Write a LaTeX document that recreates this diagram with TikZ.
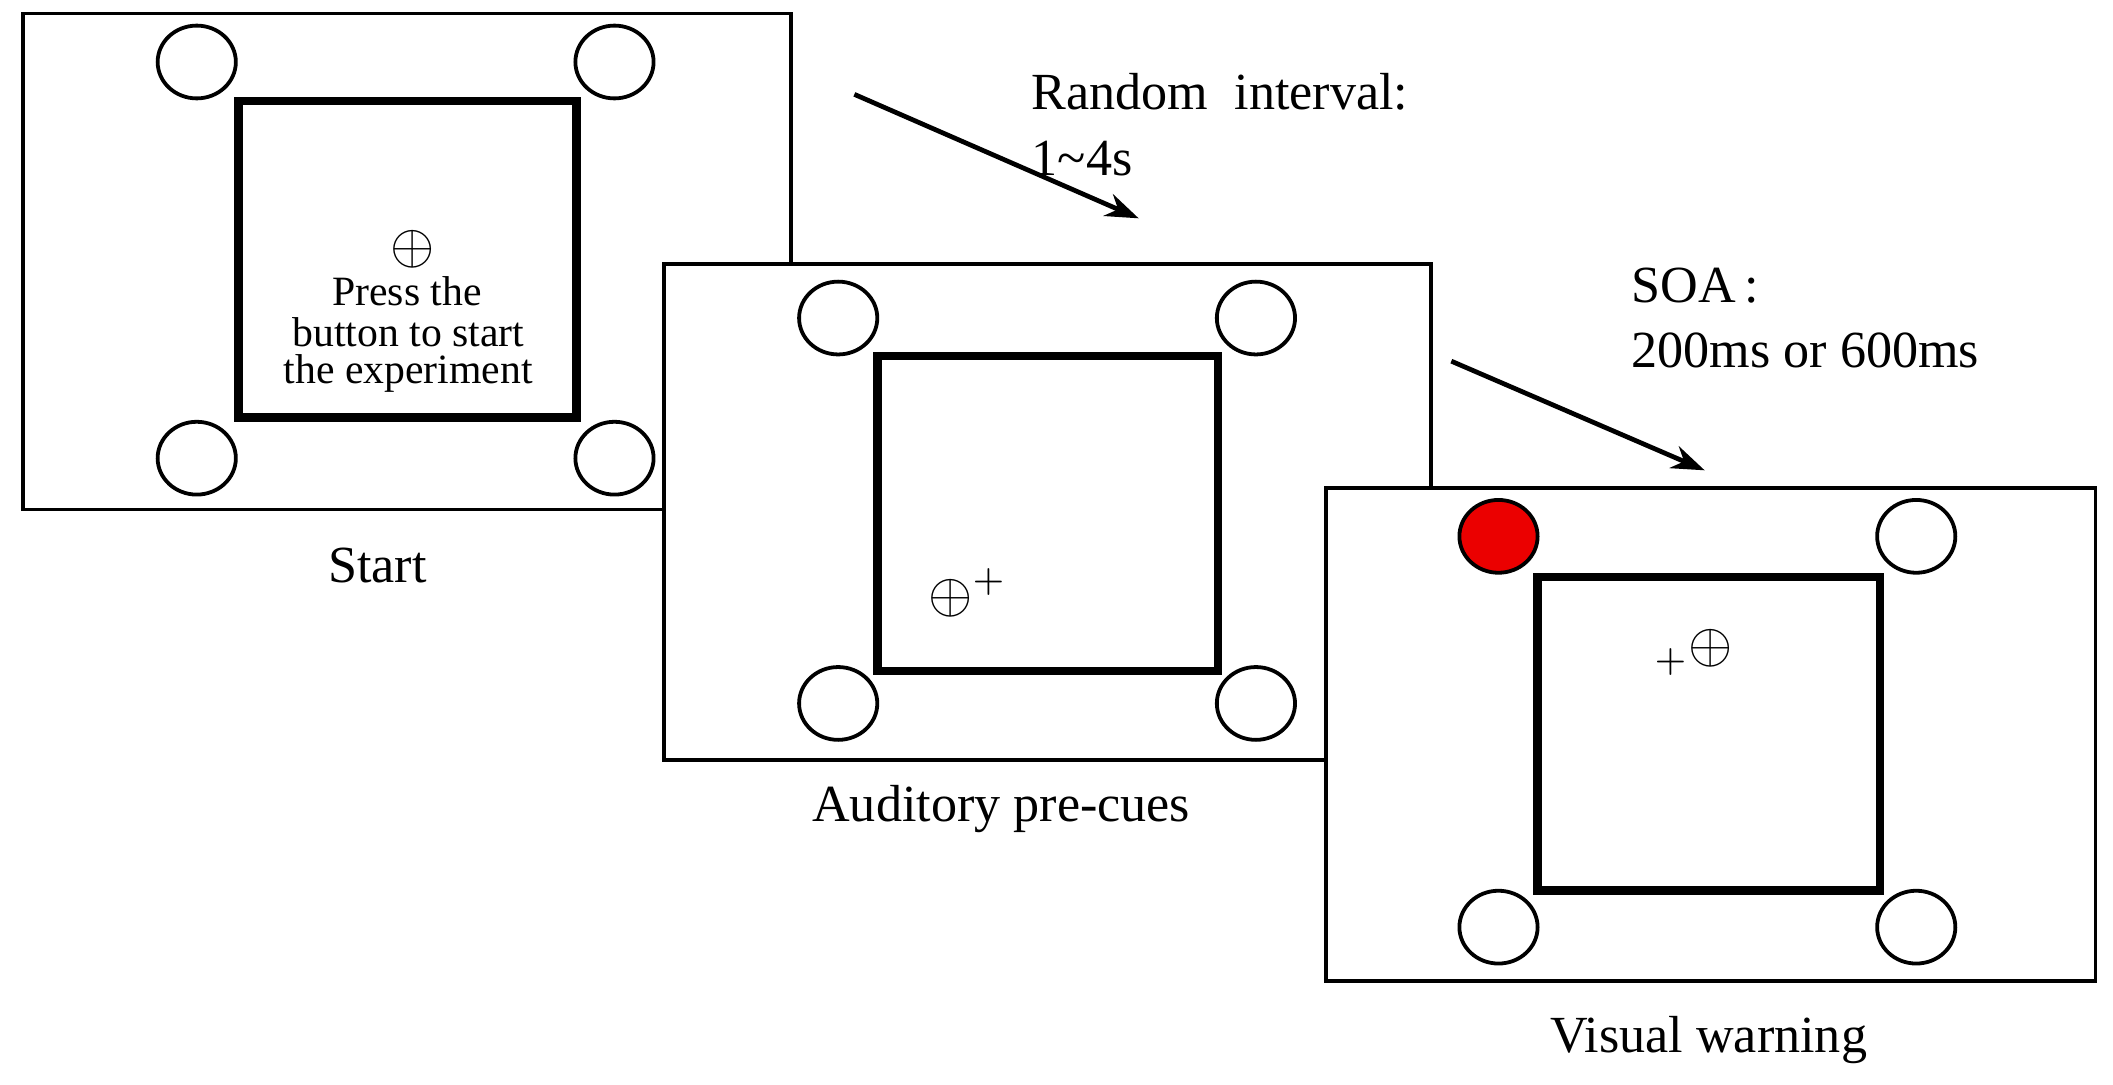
\documentclass[tikz,border=0pt]{standalone}
\usepackage{fontspec}
\setmainfont{Liberation Serif}
\usetikzlibrary{shapes.geometric,arrows.meta}
\begin{document}
\begin{tikzpicture}[x=0.01cm,y=-0.01cm,
  frame/.style={draw,line width=0.8pt,fill=white},
  inner/.style={draw,line width=1.8pt},
  dot/.style={draw,line width=0.8pt,fill=white,ellipse,minimum width=0.58cm,minimum height=0.54cm,inner sep=0pt},
  txt/.style={font=\fontsize{8.8}{10}\selectfont,inner sep=0pt},
  lab/.style={font=\fontsize{11}{13}\selectfont,inner sep=0pt},
  arr/.style={-{Stealth[length=7pt,width=5pt]},line width=1pt}]
\useasboundingbox (0,0) rectangle (1568,805);
% frame 1
\draw[frame] (17,10) rectangle (587,378);
\draw[inner] (177,75) rectangle (428,310);
\foreach \n/\x/\y in {a1/146/46,a2/456/46,a3/146/340,a4/456/340}
  \node[dot] (\n) at (\x,\y) {};
\node[txt,font=\large] (p0) at (306,185) {$\oplus$};
\node[txt] (p1) at (302,216) {Press the};
\node[txt] (p2) at (303,246.5) {button to start};
\node[txt] (p3) at (303,277) {the experiment};
\node[lab] (l1) at (280,420) {Start};
% frame 2
\draw[frame] (493,196) rectangle (1062,564);
\draw[inner] (651,264) rectangle (904,498);
\foreach \n/\x/\y in {b1/622/236,b2/932/236,b3/622/522,b4/932/522}
  \node[dot] (\n) at (\x,\y) {};
\node[txt,font=\large] (c2) at (718,440) {$\oplus^{+}$};
\node[lab] (l2) at (743,600) {Auditory pre-cues};
% frame 3
\draw[frame] (984,362) rectangle (1555,728);
\draw[inner] (1141,428) rectangle (1395,661);
\node[dot,fill={rgb,255:red,235;green,0;blue,0}] (d1) at (1112,398) {};
\foreach \n/\x/\y in {d2/1422/398,d3/1112/688,d4/1422/688}
  \node[dot] (\n) at (\x,\y) {};
\node[txt,font=\large] (c3) at (1257,484) {$_{+}\oplus$};
\node[lab] (l3) at (1268,772) {Visual warning};
% arrows
\coordinate (s1) at (634,70); \coordinate (e1) at (845,162);
\draw[arr] (s1) -- (e1);
\node[lab,anchor=west] (t1) at (765,68) {Random\ \ interval:};
\node[lab,anchor=west] (t2) at (765,118) {1\textasciitilde 4s};
\coordinate (s2) at (1077,268); \coordinate (e2) at (1265,349);
\draw[arr] (s2) -- (e2);
\node[lab,anchor=west] (t3) at (1210,212) {SOA\,:};
\node[lab,anchor=west] (t4) at (1210,260) {200ms or 600ms};
\end{tikzpicture}
\end{document}
